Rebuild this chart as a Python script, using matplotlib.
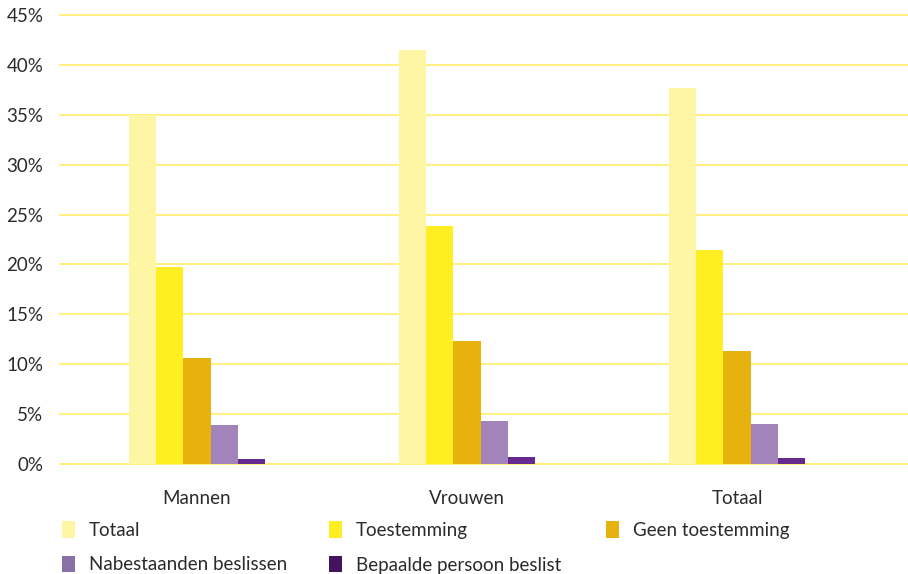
import matplotlib
matplotlib.use("Agg")
import matplotlib.pyplot as plt
import numpy as np
from matplotlib.patches import Patch

categories = ["Mannen", "Vrouwen", "Totaal"]
series_names = ["Totaal", "Toestemming", "Geen toestemming",
                "Nabestaanden beslissen", "Bepaalde persoon beslist"]
values = {
    "Totaal": [35.0, 41.5, 37.7],
    "Toestemming": [19.7, 23.9, 21.4],
    "Geen toestemming": [10.6, 12.3, 11.3],
    "Nabestaanden beslissen": [3.9, 4.3, 4.0],
    "Bepaalde persoon beslist": [0.5, 0.7, 0.6],
}
yticks = [0, 5, 10, 15, 20, 25, 30, 35, 40, 45]
ytick_labels = ["0%", "5%", "10%", "15%", "20%", "25%", "30%", "35%", "40%", "45%"]

bar_colors = ["#FFF6A5", "#FFEE22", "#E8B20E", "#A284BB", "#662A8F"]
legend_colors = ["#FFF6A5", "#FFEE22", "#E8B20E", "#8B72A6", "#42145F"]

plt.rcParams['font.family'] = ['Lato', 'DejaVu Sans']
text_color = "#2b2b2b"

fig = plt.figure(figsize=(9.08, 5.74), dpi=100)
ax = fig.add_axes([60/908, 110/574, 848/908, 449/574])

x = np.arange(len(categories))
w = 0.101
for i, name in enumerate(series_names):
    ax.bar(x + (i - 2) * w, values[name], width=w, color=bar_colors[i], zorder=3)

ax.set_ylim(0, 45)
ax.set_xlim(-0.507, 2.633)
ax.set_yticks(yticks)
ax.set_yticklabels(ytick_labels)
ax.set_xticks(x)
ax.set_xticklabels(categories)
for y in yticks:
    ax.axhline(y, color="#FFEE66", linewidth=1.2, zorder=1, clip_on=False)
for s in ax.spines.values():
    s.set_visible(False)
ax.tick_params(axis='both', length=0, labelsize=13.5, colors=text_color)
ax.tick_params(axis='y', pad=12)
ax.tick_params(axis='x', pad=19)

cols = [[0, 3], [1, 4], [2]]
xpos = [62, 329, 606]
for c, idxs in enumerate(cols):
    handles = [Patch(facecolor=legend_colors[i], edgecolor='none') for i in idxs]
    labels = [series_names[i] for i in idxs]
    fig.legend(handles, labels, loc='upper left',
               bbox_to_anchor=(xpos[c]/908, 1 - 521/574),
               frameon=False, fontsize=13.5, handlelength=0.7, handleheight=1.0,
               handletextpad=0.75, labelspacing=0.9, borderaxespad=0, borderpad=0,
               labelcolor=text_color)

fig.savefig("out.png", dpi=100)
